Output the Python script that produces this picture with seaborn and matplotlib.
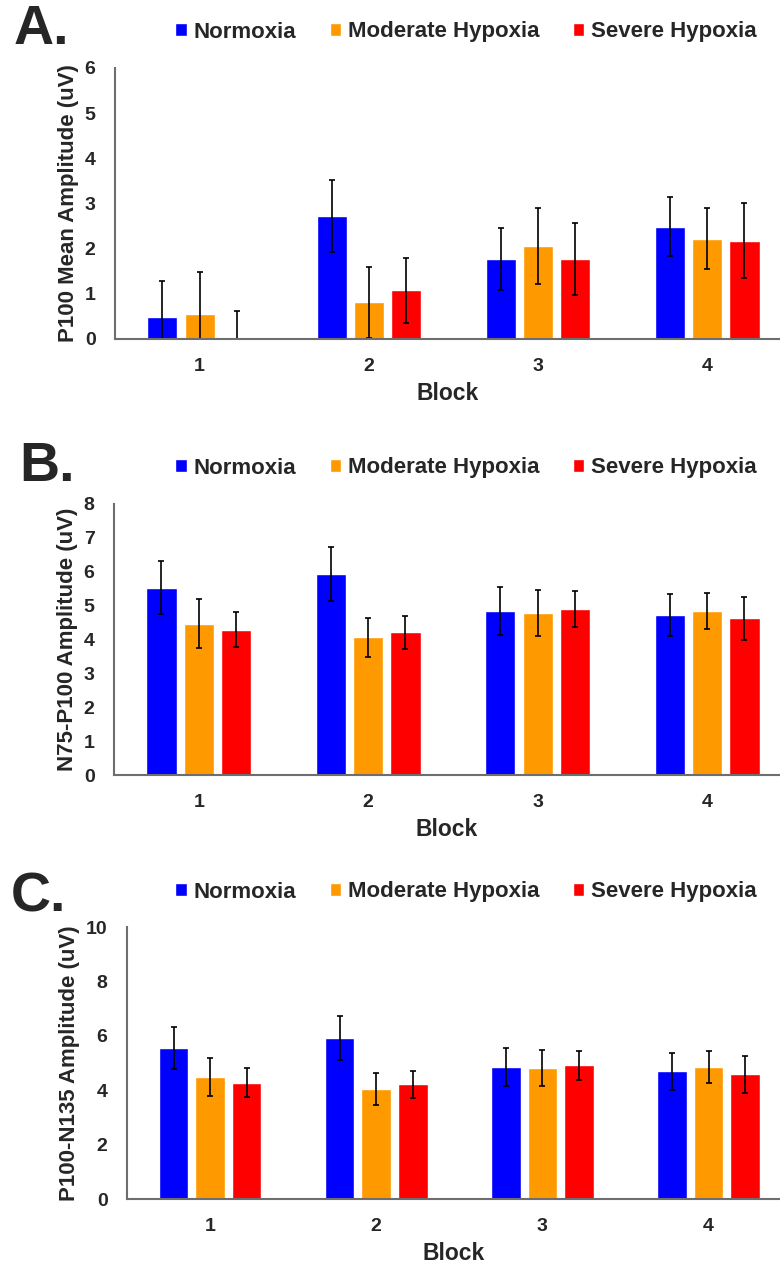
import matplotlib
matplotlib.use("Agg")
import matplotlib.pyplot as plt
import seaborn as sns
import pandas as pd

blocks = ["1", "2", "3", "4"]
conditions = ["Normoxia", "Moderate Hypoxia", "Severe Hypoxia"]
colors = ["#0000FF", "#FF9900", "#FF0000"]

# Panel A: P100 Mean Amplitude (uV)
a_norm = [0.49, 2.72, 1.77, 2.49]
a_mod = [0.56, 0.81, 2.06, 2.22]
a_sev = [0.00, 1.08, 1.77, 2.18]
a_norm_err = [0.79, 0.79, 0.69, 0.65]
a_mod_err = [0.92, 0.78, 0.84, 0.67]
a_sev_err = [0.63, 0.72, 0.80, 0.84]

# Panel B: N75-P100 Amplitude (uV)
b_norm = [5.53, 5.93, 4.84, 4.72]
b_mod = [4.47, 4.06, 4.79, 4.85]
b_sev = [4.29, 4.21, 4.90, 4.63]
b_norm_err = [0.79, 0.79, 0.72, 0.63]
b_mod_err = [0.72, 0.58, 0.68, 0.53]
b_sev_err = [0.51, 0.48, 0.54, 0.63]

# Panel C: P100-N135 Amplitude (uV)
c_norm = [5.55, 5.92, 4.85, 4.69]
c_mod = [4.48, 4.05, 4.82, 4.85]
c_sev = [4.28, 4.21, 4.91, 4.59]
c_norm_err = [0.76, 0.81, 0.71, 0.68]
c_mod_err = [0.70, 0.59, 0.66, 0.58]
c_sev_err = [0.53, 0.49, 0.52, 0.68]

sns.set_style("white")
plt.rcParams['font.family'] = ['Liberation Sans', 'DejaVu Sans']
plt.rcParams['font.weight'] = 'bold'

fig = plt.figure(figsize=(7.8, 12.66), dpi=100)

panels = [
    dict(letter="A.", ylabel="P100 Mean Amplitude (uV)",
         vals=[a_norm, a_mod, a_sev], errs=[a_norm_err, a_mod_err, a_sev_err],
         ylim=6, yticks=[0, 1, 2, 3, 4, 5, 6],
         rect=[115/780, 1-339/1266, 1-115/780, (339-68)/1266], ly=32,
         letterx=14, lettery=30),
    dict(letter="B.", ylabel="N75-P100 Amplitude (uV)",
         vals=[b_norm, b_mod, b_sev], errs=[b_norm_err, b_mod_err, b_sev_err],
         ylim=8, yticks=[0, 1, 2, 3, 4, 5, 6, 7, 8],
         rect=[114/780, 1-775/1266, 1-114/780, (775-504)/1266], ly=468,
         letterx=19, lettery=467),
    dict(letter="C.", ylabel="P100-N135 Amplitude (uV)",
         vals=[c_norm, c_mod, c_sev], errs=[c_norm_err, c_mod_err, c_sev_err],
         ylim=10, yticks=[0, 2, 4, 6, 8, 10],
         rect=[127/780, 1-1199/1266, 1-127/780, (1199-927)/1266], ly=892,
         letterx=11, lettery=898),
]

for p in panels:
    ax = fig.add_axes(p["rect"])
    rows = []
    for ci, cond in enumerate(conditions):
        for bi, blk in enumerate(blocks):
            rows.append(dict(Block=blk, Condition=cond, Value=p["vals"][ci][bi]))
    df = pd.DataFrame(rows)
    sns.barplot(data=df, x="Block", y="Value", hue="Condition", order=blocks,
                hue_order=conditions, palette=colors, errorbar=None,
                width=0.66, gap=0.19, saturation=1, ax=ax, legend=True)
    # error bars at bar centers
    for ci, cond in enumerate(conditions):
        container = ax.containers[ci]
        for bi, bar in enumerate(container):
            xc = bar.get_x() + bar.get_width() / 2
            ax.errorbar(xc, p["vals"][ci][bi], yerr=p["errs"][ci][bi], fmt="none",
                        ecolor="black", elinewidth=1.2, capsize=2.2, capthick=1.2)
    handles, labels = ax.get_legend_handles_labels()
    ax.get_legend().remove()
    fig.legend(handles[:3], labels[:3], loc="center", ncol=3,
               bbox_to_anchor=(466/780, 1 - p["ly"]/1266), frameon=False,
               handlelength=0.5, handleheight=0.5,
               handletextpad=0.32, columnspacing=1.5, borderaxespad=0,
               prop=dict(weight="bold", size=16))
    ax.set_ylim(0, p["ylim"])
    ax.set_yticks(p["yticks"])
    ax.set_xlim(-0.5, 3.43)
    ax.set_ylabel(p["ylabel"], fontsize=16, fontweight="bold", labelpad=4)
    ax.set_xlabel("Block", fontsize=16.5, fontweight="bold", labelpad=5)
    ax.tick_params(axis="both", length=0, labelsize=14)
    ax.tick_params(axis="x", pad=14)
    ax.tick_params(axis="y", pad=14)
    for lab in ax.get_xticklabels() + ax.get_yticklabels():
        lab.set_fontweight("bold")
    for s in ["top", "right"]:
        ax.spines[s].set_visible(False)
    for s in ["left", "bottom"]:
        ax.spines[s].set_color("#6e6e6e")
        ax.spines[s].set_linewidth(1.5)
    ax.patch.set_alpha(0)
    fig.text(p["letterx"]/780, 1 - p["lettery"]/1266, p["letter"], fontsize=40,
             fontweight="bold", va="center", ha="left")

fig.savefig("out.png", dpi=100)
